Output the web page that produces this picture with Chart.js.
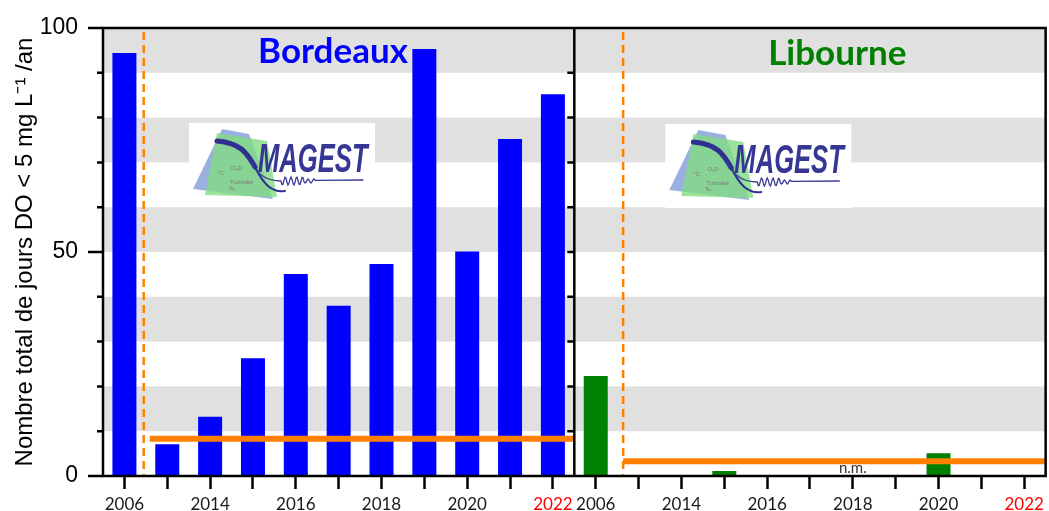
<!DOCTYPE html>
<html>
<head>
<meta charset="utf-8">
<script src="https://cdn.jsdelivr.net/npm/chart.js@4"></script>
<style>
  html, body { margin: 0; padding: 0; background: #fff; }
  #wrap { width: 1049px; height: 511px; }
</style>
</head>
<body>
<div id="wrap"><canvas id="myChart" width="1049" height="511"></canvas></div>
<script>
// years shown in each panel (same list for both stations)
const years = ['2006', '2013', '2014', '2015', '2016', '2017', '2018', '2019', '2020', '2021', '2022'];
const shownYears = ['2006', '2014', '2016', '2018', '2020', '2022'];
// days per year with DO < 5 mg/L
const bordeauxDays = [94.4, 7.1, 13.2, 26.3, 45.1, 38.0, 47.3, 95.3, 50.1, 75.2, 85.2];
const libourneDays = [22.3, 0, 0, 1.1, 0, 0, null, 0, 5.1, 0, 0]; // null = n.m.
// orange reference lines: Bordeaux, Libourne
const thresholds = [8.3, 3.3];
const yLabels = [0, 50, 100];
// grey stripes behind the bars
const bands = [[10, 20], [30, 40], [50, 60], [70, 80], [90, 100]];

const ctx = document.getElementById('myChart').getContext('2d');
const allLabels = years.concat(years);
const empty = years.map(() => null);

const bandsPlugin = {
    id: 'bands',
    beforeDraw(chart) {
        const {ctx, chartArea: a, scales: {y}} = chart;
        ctx.save();
        ctx.fillStyle = '#e0e0e0';
        bands.forEach(([lo, hi]) => {
            const top = y.getPixelForValue(hi);
            const bot = y.getPixelForValue(lo);
            ctx.fillRect(a.left, top, a.right - a.left, bot - top);
        });
        ctx.restore();
    }
};

function drawLogo(ctx, x0, y0) {
    ctx.save();
    ctx.translate(x0, y0);
    ctx.fillStyle = '#ffffff';
    ctx.fillRect(0, 0, 186, 84);
    // blue sheet
    ctx.fillStyle = 'rgba(120,150,215,0.75)';
    ctx.beginPath();
    ctx.moveTo(33, 6); ctx.lineTo(60, 11); ctx.lineTo(84, 76); ctx.lineTo(4, 66);
    ctx.closePath(); ctx.fill();
    // green sheet
    ctx.fillStyle = 'rgba(130,220,130,0.8)';
    ctx.beginPath();
    ctx.moveTo(28, 10); ctx.lineTo(78, 18); ctx.lineTo(88, 74); ctx.lineTo(16, 72);
    ctx.closePath(); ctx.fill();
    // small labels
    ctx.fillStyle = '#7a7a7a';
    ctx.font = '6px "Liberation Sans"';
    ctx.textAlign = 'left';
    ctx.fillText('O\u2082D', 42, 47);
    ctx.fillText('\u00b0C', 28, 52);
    ctx.fillText('Turbidit\u00e9', 41, 61);
    ctx.fillText('\u2030', 40, 67);
    // thick curve
    ctx.strokeStyle = '#2e2f8f';
    ctx.lineCap = 'round';
    ctx.lineWidth = 5;
    ctx.beginPath();
    ctx.moveTo(28, 18);
    ctx.bezierCurveTo(52, 20, 58, 30, 66, 44);
    ctx.stroke();
    ctx.lineWidth = 2;
    ctx.beginPath();
    ctx.moveTo(66, 44);
    ctx.bezierCurveTo(74, 60, 82, 70, 96, 68);
    ctx.stroke();
    // thin curve + wave
    ctx.lineWidth = 1.3;
    ctx.strokeStyle = '#3a3c9a';
    ctx.beginPath();
    ctx.moveTo(60, 36);
    ctx.bezierCurveTo(68, 52, 78, 58, 92, 58);
    for (let i = 0; i <= 34; i++) {
        const px = 92 + i;
        ctx.lineTo(px, 58 + Math.sin(i * 1.1) * (i < 24 ? 4 : 2));
    }
    ctx.lineTo(174, 57);
    ctx.stroke();
    // MAGEST
    ctx.fillStyle = '#363795';
    ctx.font = 'italic bold 40px "Liberation Sans"';
    ctx.textAlign = 'left';
    ctx.save();
    ctx.translate(69, 49);
    ctx.scale(0.64, 1);
    ctx.fillText('MAGEST', 0, 0);
    ctx.restore();
    ctx.restore();
}

const overlayPlugin = {
    id: 'overlay',
    afterDatasetsDraw(chart) {
        const {ctx, chartArea: a, scales: {x, y}} = chart;
        const step = x.getPixelForValue(1) - x.getPixelForValue(0);
        const mid = (x.getPixelForValue(10) + x.getPixelForValue(11)) / 2;
        const breaks = [x.getPixelForValue(0) + 0.45 * step, x.getPixelForValue(11) + 0.64 * step];
        ctx.save();

        // logos
        drawLogo(ctx, a.left + 86, a.top + 95);
        drawLogo(ctx, mid + 91, a.top + 96);

        // n.m. label
        ctx.font = '15px Lato';
        ctx.fillStyle = '#333333';
        ctx.textAlign = 'center';
        ctx.textBaseline = 'alphabetic';
        libourneDays.forEach((v, i) => {
            if (v === null) ctx.fillText('n.m.', x.getPixelForValue(11 + i), a.bottom - 3);
        });

        // dashed breaks
        ctx.strokeStyle = '#ff8000';
        ctx.lineWidth = 2.5;
        ctx.setLineDash([8, 5]);
        breaks.forEach(bx => {
            ctx.beginPath();
            ctx.moveTo(bx, a.top + 4);
            ctx.lineTo(bx, a.bottom);
            ctx.stroke();
        });
        ctx.setLineDash([]);

        // orange reference lines
        ctx.lineWidth = 6;
        const spans = [[breaks[0] + 6, mid], [breaks[1], a.right]];
        thresholds.forEach((t, k) => {
            const ty = y.getPixelForValue(t);
            ctx.beginPath();
            ctx.moveTo(spans[k][0], ty);
            ctx.lineTo(spans[k][1], ty);
            ctx.stroke();
        });

        // frame
        ctx.strokeStyle = '#000000';
        ctx.lineWidth = 2.5;
        ctx.strokeRect(a.left, a.top, a.right - a.left, a.bottom - a.top);
        ctx.beginPath();
        ctx.moveTo(mid, a.top);
        ctx.lineTo(mid, a.bottom);
        ctx.stroke();

        // y ticks, outside on the left, inside at the divider
        for (let v = 0; v <= 100; v += 10) {
            const ty = y.getPixelForValue(v);
            const len = v % 50 === 0 ? 15 : 6;
            ctx.beginPath();
            ctx.moveTo(a.left - len, ty);
            ctx.lineTo(a.left, ty);
            if (v > 0 && v < 100) {
                ctx.moveTo(mid - 7, ty);
                ctx.lineTo(mid, ty);
            }
            ctx.stroke();
        }

        // station names
        ctx.font = 'bold 35px Lato';
        ctx.textAlign = 'center';
        ctx.fillStyle = '#0000ff';
        ctx.fillText('Bordeaux', a.left + 230, a.top + 35);
        ctx.fillStyle = '#008000';
        ctx.fillText('Libourne', mid + 263, a.top + 37);
        ctx.restore();
    }
};

new Chart(ctx, {
    type: 'bar',
    data: {
        labels: allLabels,
        datasets: [{
            label: 'Bordeaux',
            data: bordeauxDays.concat(empty),
            backgroundColor: '#0000ff',
            borderWidth: 0
        }, {
            label: 'Libourne',
            data: empty.concat(libourneDays),
            backgroundColor: '#008000',
            borderWidth: 0
        }]
    },
    options: {
        responsive: false,
        animation: false,
        events: [],
        grouped: false,
        barPercentage: 0.56,
        categoryPercentage: 1,
        layout: {padding: {top: 28, right: 3, left: 0, bottom: 0}},
        plugins: {legend: {display: false}, tooltip: {enabled: false}},
        scales: {
            x: {
                grid: {
                    display: true,
                    drawOnChartArea: false,
                    offset: false,
                    tickLength: 13,
                    tickWidth: 2.5,
                    tickColor: '#000000'
                },
                border: {display: false},
                ticks: {
                    autoSkip: false,
                    maxRotation: 0,
                    padding: 5,
                    font: {family: 'Lato', size: 17},
                    color: c => (years[c.index % years.length] === '2022' ? '#ff0000' : '#1a1a1a'),
                    callback: function (value) {
                        const lab = this.getLabelForValue(value);
                        return shownYears.includes(lab) ? lab : '';
                    }
                },
                afterFit: s => { s.height = 35; }
            },
            y: {
                min: 0,
                max: 100,
                // invisible tick marks keep the labels away from the axis
                grid: {
                    display: true,
                    drawOnChartArea: false,
                    drawTicks: true,
                    tickLength: 25,
                    tickColor: 'rgba(0,0,0,0)'
                },
                border: {display: false},
                ticks: {
                    stepSize: 50,
                    padding: 0,
                    color: '#000000',
                    font: {family: '"Liberation Sans", Arial', size: 23},
                    callback: v => (yLabels.includes(v) ? v : '')
                },
                title: {
                    display: true,
                    text: 'Nombre total de jours DO < 5 mg L\u207B\u00B9 /an',
                    color: '#000000',
                    font: {family: '"Liberation Sans", Arial', size: 24},
                    padding: {top: 11, bottom: 0}
                },
                afterFit: s => { s.width = 103; }
            }
        }
    },
    plugins: [bandsPlugin, overlayPlugin]
});
</script>
</body>
</html>
